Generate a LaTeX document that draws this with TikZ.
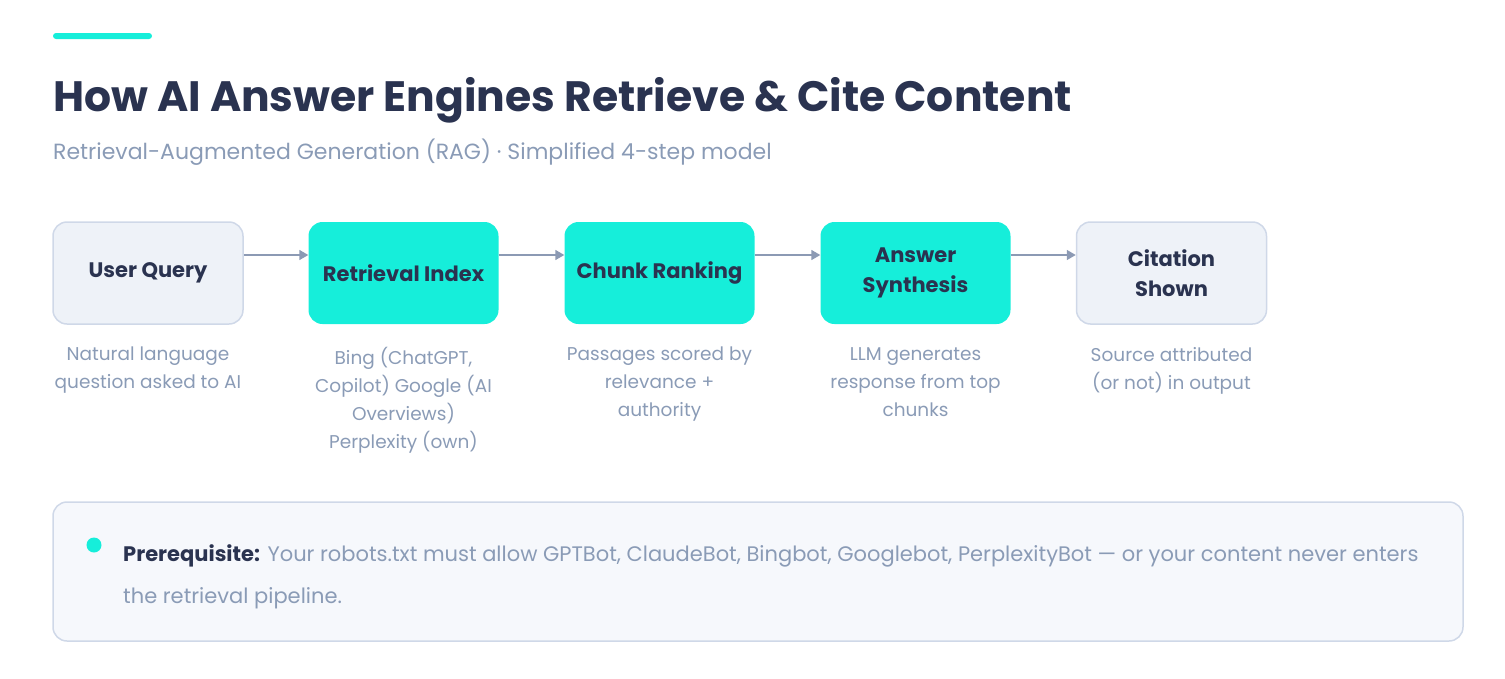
\documentclass[tikz,border=0pt]{standalone}
\usepackage{fontspec}
\setmainfont{Poppins}
\usetikzlibrary{arrows.meta}
\definecolor{navy}{HTML}{2A3350}
\definecolor{slate}{HTML}{8A9BB6}
\definecolor{teal}{HTML}{16EEDA}
\definecolor{lightfill}{HTML}{EEF2F8}
\definecolor{lightborder}{HTML}{CFD8E8}
\definecolor{notefill}{HTML}{F6F8FC}
\definecolor{arrowc}{HTML}{8C9AB4}
\tikzset{
  stepbox/.style={rounded corners=14pt, minimum width=190pt, minimum height=102pt, align=center, font=\fontsize{21}{30}\selectfont\bfseries, text=navy, inner sep=0pt},
  plainbox/.style={stepbox, fill=lightfill, draw=lightborder, line width=1.5pt},
  hotbox/.style={stepbox, fill=teal},
  desc/.style={anchor=north, align=center, font=\fontsize{18.5}{28}\selectfont, text=slate, inner sep=0pt},
  flow/.style={draw=arrowc, line width=1.5pt, -{Triangle[length=9pt,width=10pt]}},
}
\begin{document}
\begin{tikzpicture}[x=1pt,y=-1pt]
\useasboundingbox (0,0) rectangle (1505,678);
\fill[teal, rounded corners=3pt] (53,33) rectangle (152,39);
\node[anchor=base west, inner sep=0pt, text=navy, font=\fontsize{42.5}{50}\selectfont\bfseries] (title) at (53,111) {How AI Answer Engines Retrieve \& Cite Content};
\node[anchor=base west, inner sep=0pt, text=slate, font=\fontsize{22}{26}\selectfont] (sub) at (53,159) {Retrieval-Augmented Generation (RAG) · Simplified 4-step model};

\node[plainbox] (b1) at (148,273) {User Query};
\node[hotbox] (b2) at (403.5,273) {Retrieval Index};
\node[hotbox] (b3) at (659.5,273) {Chunk Ranking};
\node[hotbox] (b4) at (915.5,273) {Answer\\Synthesis};
\node[plainbox] (b5) at (1171.5,273) {Citation\\Shown};

\foreach \a/\b in {b1/b2,b2/b3,b3/b4,b4/b5}{
  \draw[flow] ([yshift=18pt]\a.east) -- ([yshift=18pt]\b.west);
}

\node[desc] (d1) at (148,347) {Natural language\\question asked to AI};
\node[desc] (d2) at (403.5,347) {Bing (ChatGPT,\\Copilot) Google (AI\\Overviews)\\Perplexity (own)};
\node[desc] (d3) at (659.5,347) {Passages scored by\\relevance +\\authority};
\node[desc] (d4) at (915.5,347) {LLM generates\\response from top\\chunks};
\node[desc] (d5) at (1171.5,347) {Source attributed\\(or not) in output};

\node[draw=lightborder, fill=notefill, line width=1.5pt, rounded corners=14pt, minimum width=1410pt, minimum height=139pt, inner sep=0pt] (note) at (758,571.5) {};
\fill[teal] (94,545) circle (7.5pt);
\node[anchor=base west, inner sep=0pt, align=left, text=slate, font=\fontsize{21}{42}\selectfont] (notetext) at (123,603) {\textcolor{navy}{\bfseries Prerequisite:} Your robots.txt must allow GPTBot, ClaudeBot, Bingbot, Googlebot, PerplexityBot — or your content never enters\\the retrieval pipeline.};
\end{tikzpicture}
\end{document}
